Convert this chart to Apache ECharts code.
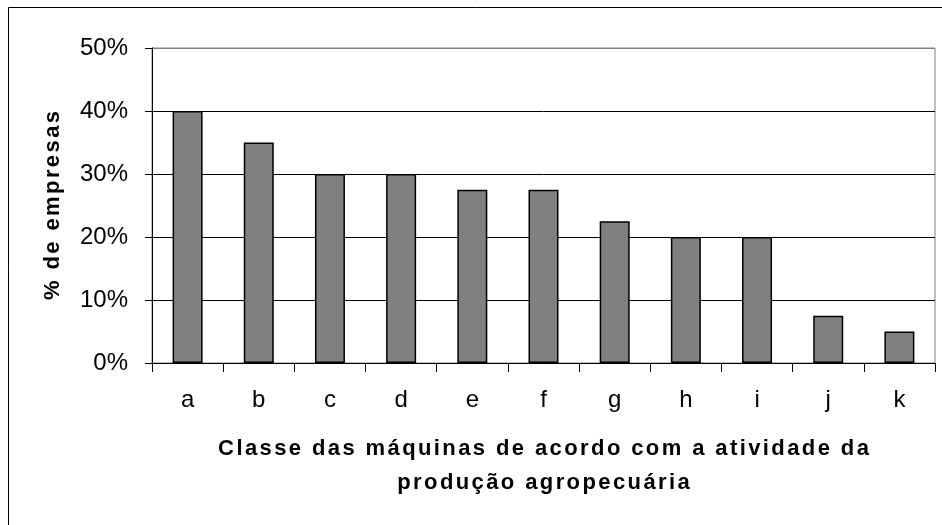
<!DOCTYPE html>
<html>
<head>
<meta charset="utf-8">
<script src="https://cdn.jsdelivr.net/npm/echarts@6/dist/echarts.min.js"></script>
<style>
  html, body { margin: 0; padding: 0; background: #fff; }
  #chart { width: 942px; height: 525px; }
</style>
</head>
<body>
<div id="chart"></div>
<script>
const categories = ['a', 'b', 'c', 'd', 'e', 'f', 'g', 'h', 'i', 'j', 'k']
const percentEmpresas = [40, 35, 30, 30, 27.5, 27.5, 22.5, 20, 20, 7.5, 5]
const yTicks = { min: 0, max: 50, interval: 10 }

const xTitle = 'Classe das máquinas de acordo com a atividade da\nprodução agropecuária'
const yTitle = '% de empresas'

const FONT = '"Liberation Sans", Arial, sans-serif'

// the original titles are letter-spaced; mimic it with one rich token per char
const spaced = str => str.split('\n')
  .map(line => Array.from(line).map(ch => '{s|' + ch + '}').join(''))
  .join('\n')

const chart = echarts.init(document.getElementById('chart'))

const option = {
  animation: false,
  backgroundColor: '#fff',
  // frame around the chart (only top/left edges fall inside the picture)
  graphic: [{
    type: 'rect',
    shape: { x: 8.5, y: 7.5, width: 1000, height: 600 },
    style: { fill: 'none', stroke: '#000', lineWidth: 1 },
    silent: true
  }],
  grid: {
    left: 152,
    top: 48,
    width: 783,
    height: 315,
    show: true,
    borderColor: '#808080',
    borderWidth: 1,
    backgroundColor: '#fff'
  },
  xAxis: {
    type: 'category',
    data: categories,
    name: spaced(xTitle),
    nameLocation: 'middle',
    nameGap: 69,
    nameTextStyle: {
      fontFamily: FONT,
      fontSize: 22,
      fontWeight: 'bold',
      color: '#000',
      lineHeight: 34,
      rich: {
        s: {
          fontFamily: FONT,
          fontSize: 22,
          fontWeight: 'bold',
          color: '#000',
          lineHeight: 34,
          padding: [0, 1.2]
        }
      }
    },
    axisLine: { lineStyle: { color: '#000', width: 1 } },
    axisTick: { show: true, length: 9, alignWithLabel: false, lineStyle: { color: '#000' } },
    axisLabel: { fontFamily: FONT, fontSize: 24, color: '#000', margin: 25 },
    splitLine: { show: false }
  },
  yAxis: {
    type: 'value',
    min: yTicks.min,
    max: yTicks.max,
    interval: yTicks.interval,
    name: spaced(yTitle),
    nameLocation: 'middle',
    nameGap: 88,
    nameTextStyle: {
      fontFamily: FONT,
      fontSize: 22,
      fontWeight: 'bold',
      color: '#000',
      rich: {
        s: {
          fontFamily: FONT,
          fontSize: 22,
          fontWeight: 'bold',
          color: '#000',
          padding: [0, 1.2]
        }
      }
    },
    axisLine: { show: true, lineStyle: { color: '#000', width: 1 } },
    axisTick: { show: true, length: 7, lineStyle: { color: '#000' } },
    axisLabel: {
      fontFamily: FONT,
      fontSize: 24,
      color: '#000',
      margin: 24,
      formatter: v => v + '%'
    },
    splitLine: {
      show: true,
      lineStyle: { color: ['#000', '#000', '#000', '#000', '#000', '#808080'], width: 1 }
    }
  },
  series: [
    {
      name: yTitle,
      type: 'bar',
      data: percentEmpresas,
      barWidth: 30,
      itemStyle: {
        color: '#808080',
        borderColor: '#000',
        borderWidth: 1.5
      }
    }
  ]
}

chart.setOption(option)
</script>
</body>
</html>
